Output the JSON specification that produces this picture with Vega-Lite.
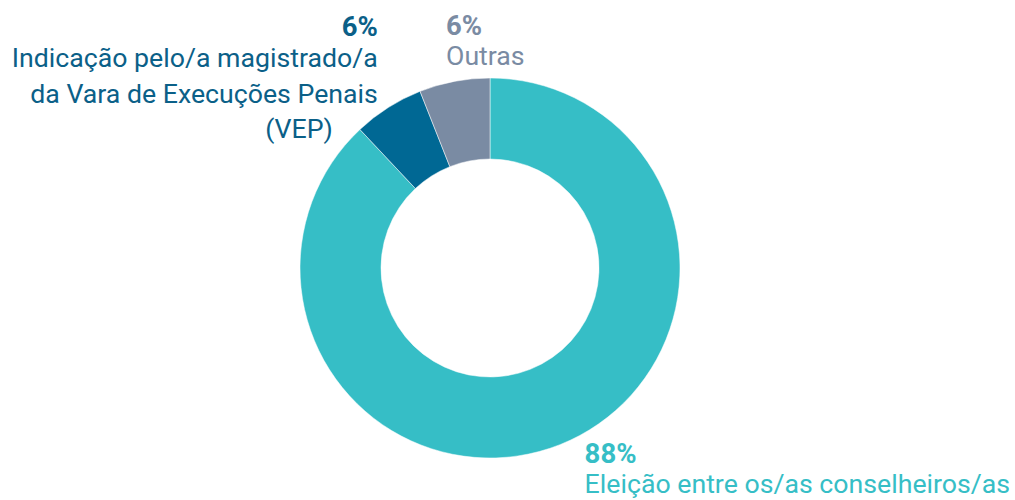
{
  "$schema": "https://vega.github.io/schema/vega-lite/v6.json",
  "width": 980,
  "height": 464,
  "autosize": {"type": "none"},
  "padding": {"left": 0, "top": 36, "right": 35, "bottom": 0},
  "background": "white",
  "config": {"view": {"stroke": null}, "text": {"font": "Roboto"}},
  "data": {
    "values": [
      {"cat": "Eleição", "value": 88, "ord": 1, "pct": "88%", "label": "Eleição entre os/as conselheiros/as", "extra": ""},
      {"cat": "VEP", "value": 6, "ord": 2, "pct": "6%", "label": "Indicação pelo/a magistrado/a\nda Vara de Execuções Penais", "extra": "(VEP)"},
      {"cat": "Outras", "value": 6, "ord": 3, "pct": "6%", "label": "Outras", "extra": ""}
    ]
  },
  "encoding": {
    "theta": {"field": "value", "type": "quantitative", "stack": true},
    "order": {"field": "ord", "type": "quantitative"}
  },
  "layer": [
    {
      "mark": {"type": "arc", "radius": 190, "radius2": 109, "stroke": "white", "strokeWidth": 0.5},
      "encoding": {
        "color": {
          "field": "cat",
          "type": "nominal",
          "scale": {"domain": ["Eleição", "VEP", "Outras"], "range": ["#36BEC6", "#006894", "#7A8BA3"]},
          "legend": null
        }
      }
    },
    {
      "mark": {"type": "text", "radius": 200, "align": "left", "baseline": "alphabetic", "fontSize": 27.5, "fontWeight": "bold", "color": "#36BEC6", "dx": 21, "dy": 9},
      "encoding": {"text": {"condition": {"test": "datum.cat == 'Eleição'", "field": "pct"}, "value": ""}}
    },
    {
      "mark": {"type": "text", "radius": 200, "align": "left", "baseline": "alphabetic", "fontSize": 26.7, "color": "#36BEC6", "dx": 21, "dy": 39},
      "encoding": {"text": {"condition": {"test": "datum.cat == 'Eleição'", "field": "label"}, "value": ""}}
    },
    {
      "mark": {"type": "text", "radius": 200, "align": "right", "baseline": "alphabetic", "fontSize": 27.5, "fontWeight": "bold", "color": "#0B6088", "dx": -5, "dy": -63},
      "encoding": {"text": {"condition": {"test": "datum.cat == 'VEP'", "field": "pct"}, "value": ""}}
    },
    {
      "mark": {"type": "text", "radius": 200, "align": "right", "baseline": "alphabetic", "fontSize": 26.7, "lineBreak": "\n", "lineHeight": 36, "color": "#0B6088", "dx": -5, "dy": -32},
      "encoding": {"text": {"condition": {"test": "datum.cat == 'VEP'", "field": "label"}, "value": ""}}
    },
    {
      "mark": {"type": "text", "radius": 200, "align": "right", "baseline": "alphabetic", "fontSize": 26.7, "color": "#0B6088", "dx": -50, "dy": 39},
      "encoding": {"text": {"condition": {"test": "datum.cat == 'VEP'", "field": "extra"}, "value": ""}}
    },
    {
      "mark": {"type": "text", "radius": 200, "align": "left", "baseline": "alphabetic", "fontSize": 27.5, "fontWeight": "bold", "color": "#7A8BA3", "dx": -6.5, "dy": -36.5},
      "encoding": {"text": {"condition": {"test": "datum.cat == 'Outras'", "field": "pct"}, "value": ""}}
    },
    {
      "mark": {"type": "text", "radius": 200, "align": "left", "baseline": "alphabetic", "fontSize": 26.7, "color": "#7A8BA3", "dx": -6.5, "dy": -6.5},
      "encoding": {"text": {"condition": {"test": "datum.cat == 'Outras'", "field": "label"}, "value": ""}}
    }
  ]
}
